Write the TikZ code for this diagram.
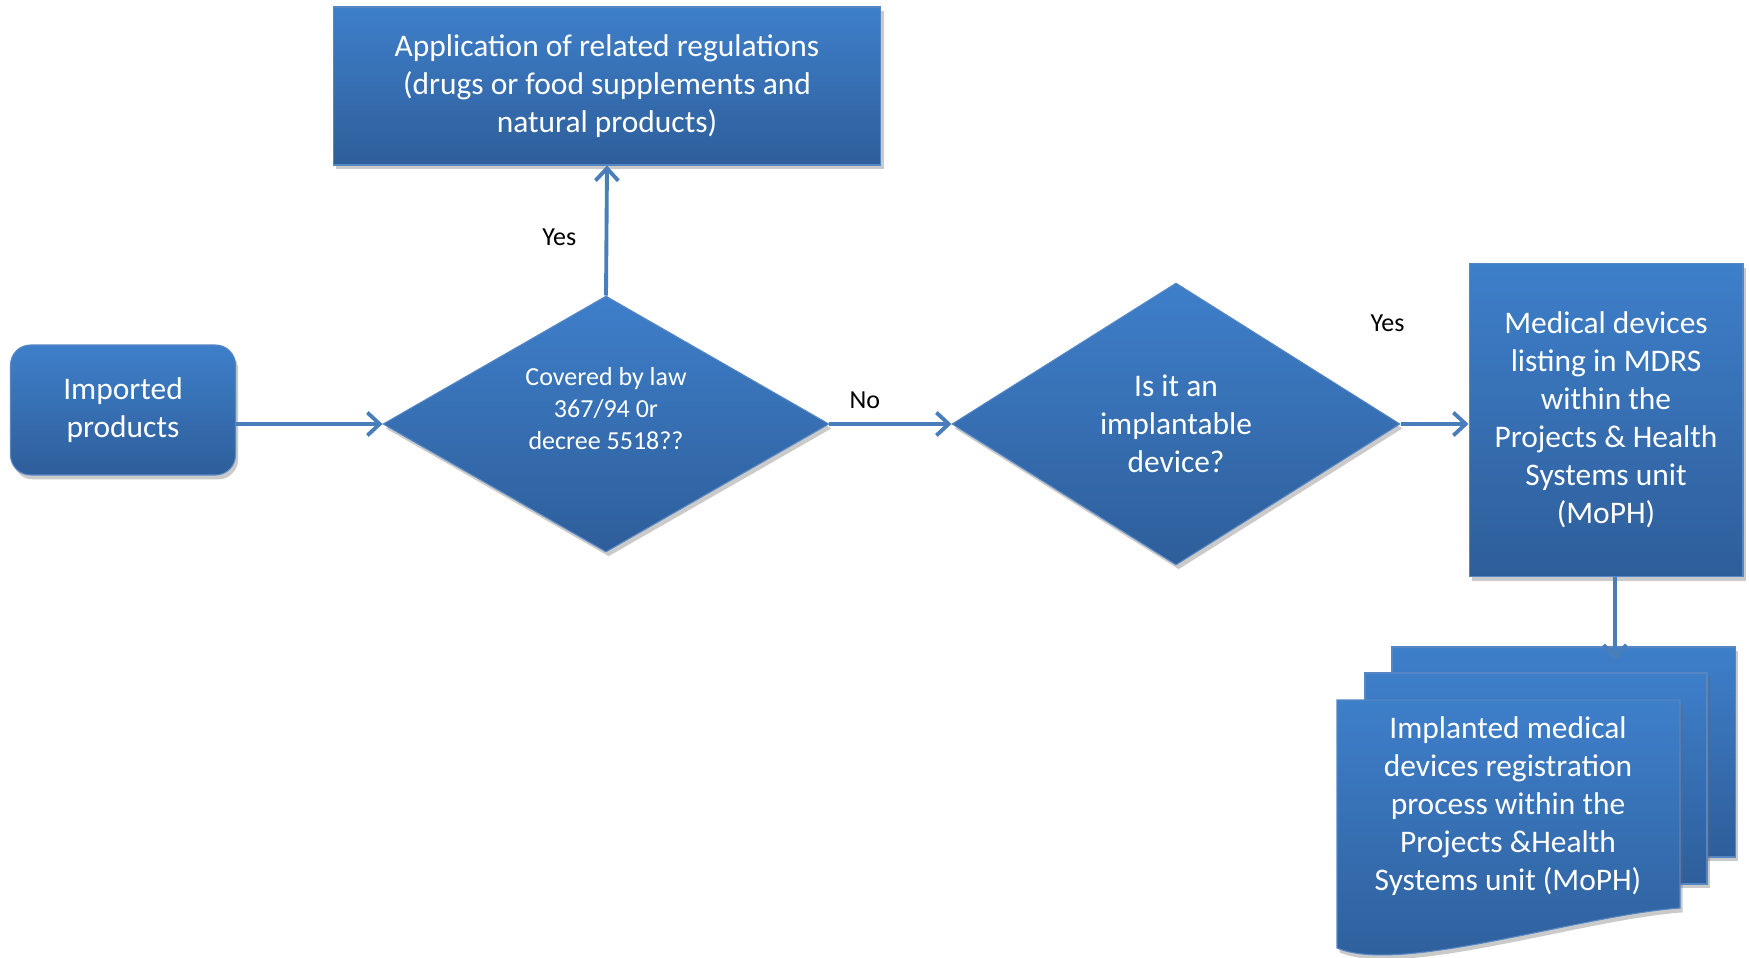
\documentclass[tikz,border=0pt]{standalone}
\usepackage{fontspec}
\setmainfont{Carlito}
\usetikzlibrary{arrows.meta, positioning, shapes.geometric, shadows}

\definecolor{boxtop}{RGB}{62,127,202}
\definecolor{boxbot}{RGB}{46,94,154}
\definecolor{boxedge}{RGB}{86,134,196}
\definecolor{arrblue}{RGB}{74,126,187}

\tikzset{
  blockfill/.style={top color=boxtop, bottom color=boxbot, draw=boxedge, line width=0.6pt,
    drop shadow={shadow xshift=1.5pt, shadow yshift=-2.5pt, opacity=0.35, fill=black!60}},
  bigtxt/.style={text=white, align=center, font=\fontsize{17.9}{21.6}\selectfont},
  smalltxt/.style={text=white, align=center, font=\fontsize{14.8}{18.2}\selectfont},
  procbox/.style={blockfill, bigtxt, rectangle, inner sep=2pt},
  startbox/.style={blockfill, bigtxt, rectangle, rounded corners=0.4cm, inner sep=2pt},
  decision/.style={blockfill, diamond, inner sep=1pt, shape aspect=1.7},
  arr/.style={draw=arrblue, line width=2.2pt, -{Straight Barb[length=7pt,width=13pt,line width=2.2pt]}},
  lbl/.style={font=\fontsize{14.8}{18}\selectfont, text=black}
}

\begin{document}
\begin{tikzpicture}[x=0.02cm, y=-0.02cm]
\useasboundingbox (0,0) rectangle (1750,957);

% blocks
\node[startbox, minimum width=4.5cm, minimum height=2.6cm] (imp) at (123,410) {Imported\\products};
\node[decision, smalltxt, minimum width=8.92cm, minimum height=5.12cm] (law) at (606,424)
  {Covered by law\\367/94 0r\\decree 5518??\\\mbox{}};
\node[procbox, minimum width=10.96cm, minimum height=3.16cm] (appl) at (607,86)
  {Application of related regulations\\(drugs or food supplements and\\natural products)};
\node[decision, bigtxt, minimum width=8.96cm, minimum height=5.64cm] (implant) at (1176,424)
  {Is it an\\implantable\\device?};
\node[procbox, minimum width=5.48cm, minimum height=6.26cm] (mdrs) at (1606,420)
  {Medical devices\\listing in MDRS\\within the\\Projects \& Health\\Systems unit\\(MoPH)};

% stacked documents
\path[blockfill] (1392,647) rectangle (1735,857);
\path[blockfill] (1365,673) rectangle (1707,884);
\path[blockfill] (1337,700) -- (1680,700) -- (1680,908)
  .. controls (1580,915) and (1400,975) .. (1337,948) -- cycle;
\node[bigtxt] (reg) at (1508,806)
  {Implanted medical\\devices registration\\process within the\\Projects \&Health\\Systems unit (MoPH)};
\coordinate (stacktop) at (1615,660);

% connectors
\draw[arr] (imp.east |- law.west) -- (law.west);
\draw[arr] (law.north) -- (appl.south) node[lbl, pos=0.45, left=0.45cm] {Yes};
\draw[arr] (law.east) -- (implant.west) node[lbl, pos=0.29, above=0.15cm] {No};
\draw[arr] (implant.east) -- (mdrs.west |- implant.east) node[lbl, at start, above=1.7cm, xshift=-0.26cm] {Yes};
\draw[arr] (mdrs.south -| stacktop) -- (stacktop);
\end{tikzpicture}
\end{document}
